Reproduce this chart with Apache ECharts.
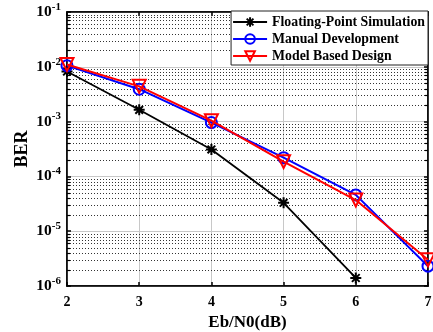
<!DOCTYPE html>
<html><head><meta charset="utf-8">
<script src="https://cdn.jsdelivr.net/npm/echarts@6/dist/echarts.min.js"></script>
<style>html,body{margin:0;padding:0;background:#fff}#c{width:433px;height:332px}</style>
</head><body><div id="c"></div>
<script>
const ebn0 = [2, 3, 4, 5, 6, 7];
const floatingBER = [8.2e-3, 1.64e-3, 3.1e-4, 3.3e-5, 1.4e-6, null];
const manualBER = [1.05e-2, 3.9e-3, 9.6e-4, 2.2e-4, 4.6e-5, 2.3e-6];
const modelBER = [1.1e-2, 4.4e-3, 1.04e-3, 1.86e-4, 3.7e-5, 3.0e-6];
const seriesNames = ['Floating-Point Simulation', 'Manual Development', 'Model Based Design'];

const FONT = '"Liberation Serif", "Times New Roman", serif';
const minorVals = [];
for (let k = -6; k <= -2; k++) for (let m = 2; m <= 9; m++) minorVals.push(m * Math.pow(10, k));

function pairs(arr) { return ebn0.map((x, i) => arr[i] == null ? null : [x, arr[i]]).filter(Boolean); }

const asterisk = 'path://M0,-10L0,10M-10,0L10,0M-7,-7L7,7M-7,7L7,-7';

function renderMinor(params, api) {
  const v = api.value(1);
  const p1 = api.coord([2, v]);
  const p2 = api.coord([7, v]);
  const y = Math.round(p1[1]) + 0.5;
  return {
    type: 'group',
    children: [
      { type: 'line', shape: { x1: p1[0], y1: y, x2: p2[0], y2: y }, style: { stroke: '#333', lineDash: [1, 2], lineWidth: 1 } },
      { type: 'line', shape: { x1: p1[0], y1: y, x2: p1[0] + 3, y2: y }, style: { stroke: '#000', lineWidth: 1.2 } },
      { type: 'line', shape: { x1: p2[0] - 3, y1: y, x2: p2[0], y2: y }, style: { stroke: '#000', lineWidth: 1.2 } }
    ]
  };
}

const chart = echarts.init(document.getElementById('c'), null, { renderer: 'canvas' });
chart.setOption({
  animation: false,
  backgroundColor: '#fff',
  grid: { left: 67, right: 5, top: 12, bottom: 46, containLabel: false, outerBoundsMode: 'none', show: true, borderColor: '#000', borderWidth: 1.5, backgroundColor: 'transparent' },
  legend: {
    data: seriesNames,
    orient: 'vertical', right: 5, top: 11,
    backgroundColor: '#fff', borderColor: '#222', borderWidth: 1,
    padding: [4, 3, 2, 1], itemGap: 3, itemWidth: 34, itemHeight: 12,
    textStyle: { fontFamily: FONT, fontWeight: 'bold', fontSize: 13.8, color: '#000' }
  },
  xAxis: [{
    type: 'value', min: 2, max: 7, interval: 1,
    name: 'Eb/N0(dB)', nameLocation: 'middle', nameGap: 28, nameMoveOverlap: false,
    nameTextStyle: { fontFamily: FONT, fontWeight: 'bold', fontSize: 17, color: '#000' },
    axisLine: { lineStyle: { color: '#000', width: 1.5 } },
    axisTick: { inside: true, length: 4, lineStyle: { color: '#000', width: 1.5 } },
    axisLabel: { fontFamily: FONT, fontWeight: 'bold', fontSize: 14, color: '#000', margin: 9 },
    splitLine: { show: true, lineStyle: { color: '#c8c8c8', width: 1 } }
  }, {
    type: 'value', min: 2, max: 7, interval: 1, position: 'top',
    axisLine: { lineStyle: { color: '#000', width: 1.5 } },
    axisTick: { inside: true, length: 4, lineStyle: { color: '#000', width: 1.5 } },
    axisLabel: { show: false }, splitLine: { show: false }
  }],
  yAxis: [{
    type: 'log', logBase: 10, min: 1e-6, max: 1e-1,
    name: 'BER', nameLocation: 'middle', nameGap: 36, nameMoveOverlap: false,
    nameTextStyle: { fontFamily: FONT, fontWeight: 'bold', fontSize: 18, color: '#000' },
    axisLine: { lineStyle: { color: '#000', width: 1.5 } },
    axisTick: { inside: true, length: 4, lineStyle: { color: '#000', width: 1.5 } },
    axisLabel: {
      margin: 6,
      formatter: v => '{b|10}{s|' + Math.round(Math.log10(v)) + '}',
      rich: {
        b: { fontFamily: FONT, fontWeight: 'bold', fontSize: 15.5, color: '#000' },
        s: { fontFamily: FONT, fontWeight: 'bold', fontSize: 11, color: '#000', padding: [0, 0, 10, 0] }
      }
    },
    splitLine: { show: true, lineStyle: { color: '#c8c8c8', width: 1 } }
  }, {
    type: 'log', logBase: 10, min: 1e-6, max: 1e-1, position: 'right',
    axisLine: { lineStyle: { color: '#000', width: 1.5 } },
    axisTick: { inside: true, length: 4, lineStyle: { color: '#000', width: 1.5 } },
    axisLabel: { show: false }, splitLine: { show: false }
  }],
  series: [
    {
      name: '_grid', type: 'custom', z: 1, silent: true,
      renderItem: renderMinor,
      data: minorVals.map(v => [2, v])
    },
    {
      name: seriesNames[0], type: 'line', z: 5, data: pairs(floatingBER),
      symbol: asterisk, symbolSize: 11,
      lineStyle: { color: '#000', width: 1.8 },
      itemStyle: { color: '#000', borderColor: '#000', borderWidth: 2 }
    },
    {
      name: seriesNames[1], type: 'line', z: 6, data: pairs(manualBER),
      symbol: 'circle', symbolSize: 11,
      lineStyle: { color: '#0000ff', width: 2 },
      itemStyle: { color: 'rgba(0,0,0,0)', borderColor: '#0000ff', borderWidth: 2 }
    },
    {
      name: seriesNames[2], type: 'line', z: 7, data: pairs(modelBER),
      symbol: 'triangle', symbolRotate: 180, symbolSize: 13,
      lineStyle: { color: '#ff0000', width: 2 },
      itemStyle: { color: 'rgba(0,0,0,0)', borderColor: '#ff0000', borderWidth: 2 }
    }
  ]
});
</script></body></html>
